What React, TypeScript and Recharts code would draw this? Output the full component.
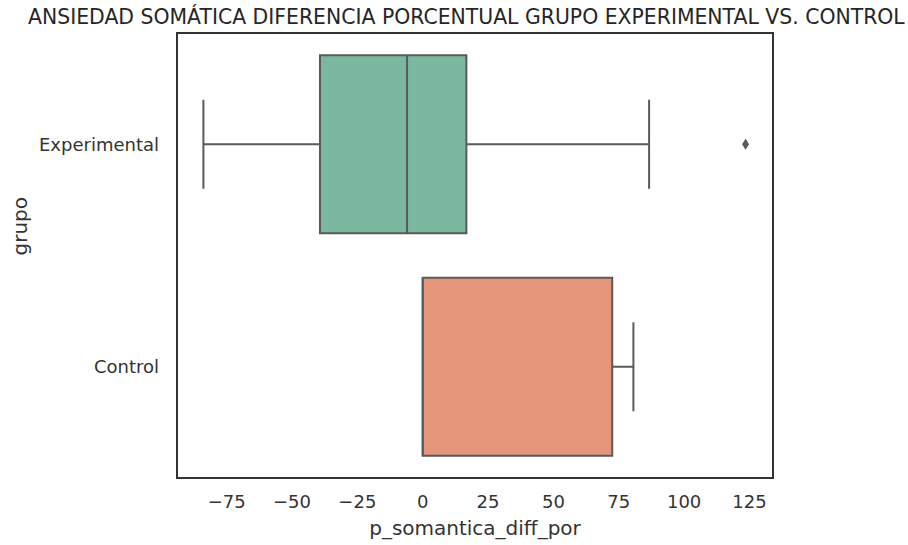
import { ComposedChart, Bar, XAxis, YAxis, ReferenceArea } from 'recharts'

// group order top -> bottom
const groups = ['Experimental', 'Control']
const boxColors = ['#7ab8a0', '#e4957a']
const q1 = [-39.3, 0]
const median = [-6, 0]
const q3 = [16.7, 72.5]
const whiskerLow = [-83.9, 0]
const whiskerHigh = [86.6, 80.6]
const outliers = [[123.5], []]

const xTicks = [-75, -50, -25, 0, 25, 50, 75, 100, 125]
const xDomain = [-94, 134]

const data = groups.map((g, i) => ({
  grupo: g,
  box: [q1[i], q3[i]],
  median: median[i],
  lo: whiskerLow[i],
  hi: whiskerHigh[i],
  out: outliers[i],
  color: boxColors[i],
}))

const LINE = '#5a5a5a'

function BoxShape(props: any) {
  const { x, y, width, height, payload } = props
  const [a, b] = payload.box
  const k = width / (b - a)
  const px = (v: number) => x + (v - a) * k
  const cy = y + height / 2
  const cap = height / 4
  const left = Math.min(px(a), px(b))
  const right = Math.max(px(a), px(b))
  return (
    <g>
      {payload.lo < a && (
        <>
          <line x1={px(payload.lo)} x2={left} y1={cy} y2={cy} stroke={LINE} strokeWidth={2} />
          <line x1={px(payload.lo)} x2={px(payload.lo)} y1={cy - cap} y2={cy + cap} stroke={LINE} strokeWidth={2} />
        </>
      )}
      {payload.hi > b && (
        <>
          <line x1={right} x2={px(payload.hi)} y1={cy} y2={cy} stroke={LINE} strokeWidth={2} />
          <line x1={px(payload.hi)} x2={px(payload.hi)} y1={cy - cap} y2={cy + cap} stroke={LINE} strokeWidth={2} />
        </>
      )}
      <rect x={left} y={y} width={right - left} height={height} fill={payload.color} stroke={LINE} strokeWidth={2} />
      <line x1={px(payload.median)} x2={px(payload.median)} y1={y} y2={y + height} stroke={LINE} strokeWidth={2} />
      {payload.out.map((o: number, j: number) => {
        const ox = px(o)
        return (
          <polygon
            key={j}
            points={`${ox},${cy - 5.5} ${ox + 3.5},${cy} ${ox},${cy + 5.5} ${ox - 3.5},${cy}`}
            fill={LINE}
          />
        )
      })}
    </g>
  )
}

const fmt = (v: number) => (v < 0 ? `\u2212${-v}` : `${v}`)

export default function App() {
  const font = '"DejaVu Sans", sans-serif'
  return (
    <div style={{ position: 'absolute', left: 0, top: 0, width: 908, height: 545, background: '#fff', fontFamily: font }}>
      <div
        style={{
          position: 'absolute',
          left: 28,
          top: 4,
          fontSize: 20.4,
          lineHeight: '26px',
          color: '#262626',
          whiteSpace: 'nowrap',
        }}
      >
        ANSIEDAD SOMÁTICA DIFERENCIA PORCENTUAL GRUPO EXPERIMENTAL VS. CONTROL
      </div>
      <ComposedChart
        width={908}
        height={545}
        data={data}
        layout="vertical"
        margin={{ top: 33, right: 135, bottom: 7, left: 77 }}
        barCategoryGap="10%"
        style={{ position: 'absolute', left: 0, top: 0 }}
      >
        <XAxis
          type="number"
          domain={xDomain}
          ticks={xTicks}
          allowDataOverflow
          tickFormatter={fmt}
          axisLine={false}
          tickLine={false}
          height={60}
          tickMargin={11}
          tick={{ fontSize: 18, fill: '#333', fontFamily: font }}
          label={{ value: 'p_somantica_diff_por', position: 'insideBottom', offset: 3, fontSize: 20, fill: '#333', fontFamily: font }}
        />
        <YAxis
          type="category"
          dataKey="grupo"
          axisLine={false}
          tickLine={false}
          width={100}
          tickMargin={12}
          tick={{ fontSize: 18, fill: '#333', fontFamily: font }}
          label={{ value: 'grupo', angle: -90, position: 'insideLeft', offset: -57, fontSize: 20, fill: '#333', fontFamily: font }}
        />
        <Bar dataKey="box" shape={BoxShape} isAnimationActive={false} />
        <ReferenceArea x1={xDomain[0]} x2={xDomain[1]} fill="none" stroke="#333" strokeWidth={2} ifOverflow="visible" />
      </ComposedChart>
    </div>
  )
}
